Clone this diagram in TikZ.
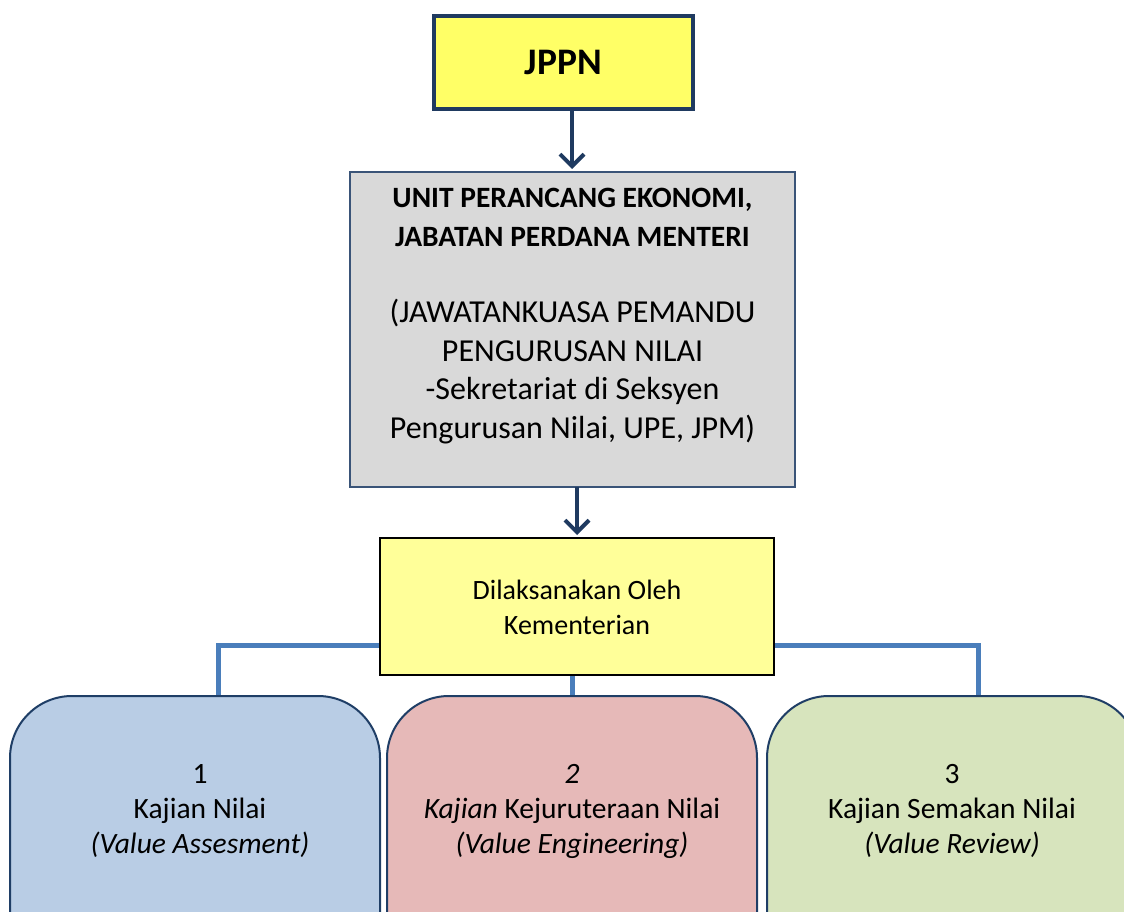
\documentclass[tikz,border=0pt]{standalone}
\usepackage{fontspec}
\setmainfont{Carlito}
\usetikzlibrary{arrows.meta}
\definecolor{navy}{HTML}{1F3A60}
\definecolor{jppnfill}{HTML}{FFFF66}
\definecolor{grayfill}{HTML}{D9D9D9}
\definecolor{grayline}{HTML}{3A5478}
\definecolor{dilfill}{HTML}{FFFF99}
\definecolor{connblue}{HTML}{4A7EBB}
\definecolor{bluefill}{HTML}{B9CDE5}
\definecolor{redfill}{HTML}{E6B9B8}
\definecolor{greenfill}{HTML}{D7E4BD}
\definecolor{boxline}{HTML}{1F3E66}
\newcommand{\boldline}{\fontsize{29.5}{37}\selectfont\bfseries}
\tikzset{
  x=1pt, y=-1pt,
  plain/.style={inner sep=0pt, outer sep=0pt},
  arrowline/.style={draw=navy, line width=4pt, -{Straight Barb[length=12pt,width=24pt,line width=4pt]}},
  conn/.style={draw=connblue, line width=5pt},
  roundbox/.style={draw=boxline, line width=2pt, rounded corners=62pt, minimum width=370pt, minimum height=280pt, plain},
  txt/.style={align=center, plain, font=\fontsize{29.5}{35}\selectfont},
}
\begin{document}
\begin{tikzpicture}
\useasboundingbox (0,0) rectangle (1124,912);
\clip (0,0) rectangle (1124,912);
% top box
\node[plain, draw=navy, line width=4pt, fill=jppnfill, minimum width=259pt, minimum height=93pt] (jppn) at (563.5,62.5) {};
\node[txt, font=\fontsize{37.5}{40}\selectfont\bfseries] (jppntext) at (jppn.center) {JPPN};
% gray box
\node[plain, draw=grayline, line width=2pt, fill=grayfill, minimum width=445pt, minimum height=315pt] (upe) at (572.5,329.5) {};
\node[txt, font=\fontsize{32}{38.5}\selectfont] (upetext) at (572.5,316) {\boldline UNIT PERANCANG EKONOMI,\\\boldline JABATAN PERDANA MENTERI\\[38pt](JAWATANKUASA PEMANDU\\PENGURUSAN NILAI\\ -Sekretariat di Seksyen\\Pengurusan Nilai, UPE, JPM)};
% dilaksanakan box
\coordinate (hr) at (978,645);
\coordinate (b1top) at (218,697);
\coordinate (b3top) at (978,697);
\coordinate (mtop) at (572,675);
\coordinate (mbot) at (572,697);
\draw[conn] (b1top) |- (hr) -- (b3top);
\draw[conn] (mtop) -- (mbot);
\node[plain, draw=black, line width=2pt, fill=dilfill, minimum width=394pt, minimum height=137pt] (dil) at (577,606.5) {};
\node[txt, font=\fontsize{28}{35}\selectfont] (diltext) at (577,607) {Dilaksanakan Oleh\\Kementerian};
% arrows
\coordinate (a1s) at (572,111);
\coordinate (a1e) at (572,169);
\coordinate (a2s) at (577,487);
\coordinate (a2e) at (577,535);
\draw[arrowline] (a1s) -- (a1e);
\draw[arrowline] (a2s) -- (a2e);
% bottom boxes
\node[roundbox, fill=bluefill] (b1) at (195,836) {};
\node[roundbox, fill=redfill] (b2) at (572,836) {};
\node[roundbox, fill=greenfill, minimum width=372pt] (b3) at (953,836) {};
\node[txt] (t1) at (200,811) {1\\Kajian Nilai\\\textit{(Value Assesment)}};
\node[txt] (t2) at (572,811) {\textit{2}\\\textit{Kajian} Kejuruteraan Nilai\\\textit{(Value Engineering)}};
\node[txt] (t3) at (952,811) {3\\Kajian Semakan Nilai\\\textit{(Value Review)}};
\end{tikzpicture}
\end{document}
